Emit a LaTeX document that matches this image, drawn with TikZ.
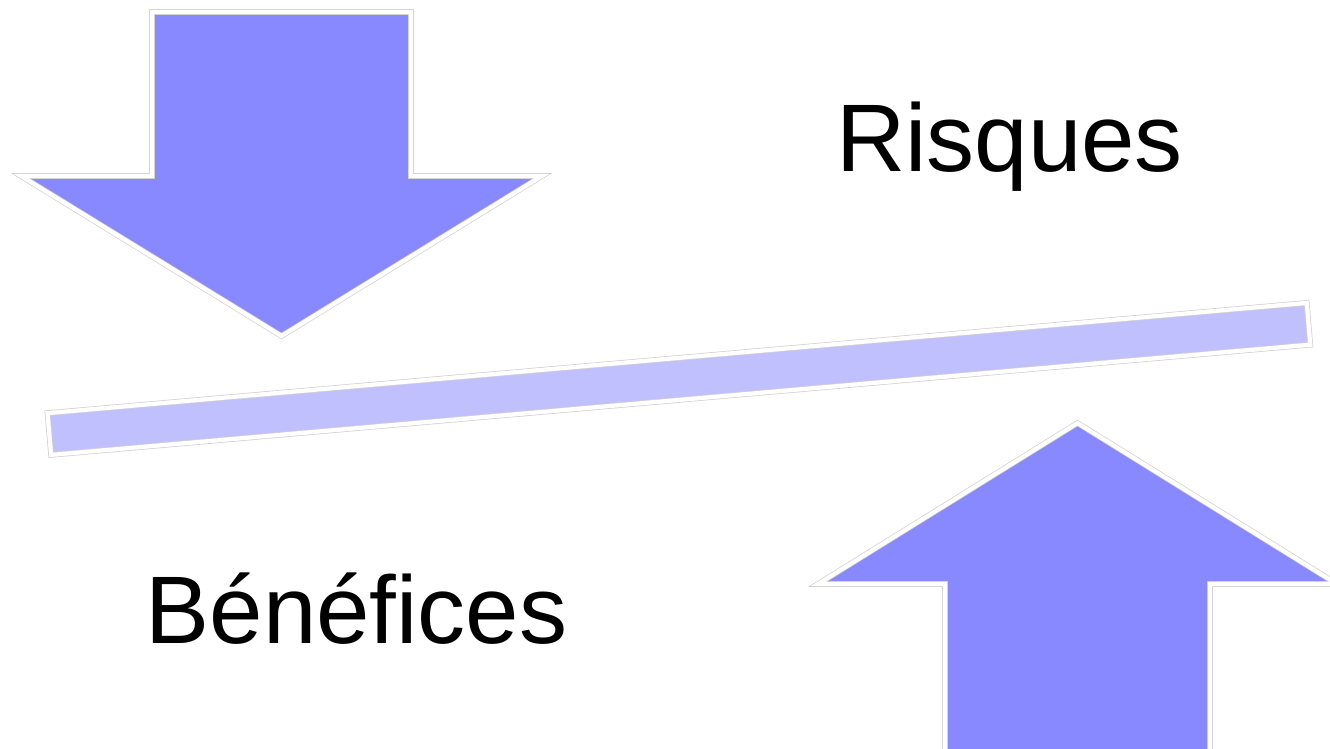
\documentclass[tikz,border=0pt]{standalone}
\usepackage{fontspec}
\setmainfont{Liberation Sans}
\usetikzlibrary{positioning}
\definecolor{arrowblue}{RGB}{136,136,255}
\definecolor{beamblue}{RGB}{192,192,255}
\definecolor{edgegray}{RGB}{208,208,208}

\begin{document}
\begin{tikzpicture}[x=0.01cm, y=-0.01cm,
    bigarrow/.style={fill=arrowblue, draw=edgegray, line width=0.2pt, double=white, double distance=1.2pt, line join=miter},
    beam/.style={fill=beamblue, draw=edgegray, line width=0.2pt, double=white, double distance=1.2pt},
    word/.style={anchor=base, inner sep=0pt, font=\fontsize{27.3}{32}\selectfont}]
    \useasboundingbox (0,0) rectangle (1330,748);
    \clip (0,0) rectangle (1330,748);

    % pressure from above
    \draw[bigarrow] (152,12) -- (411,12) -- (411,176) -- (542,176) -- (281.5,336)
        -- (21,176) -- (152,176) -- cycle;
    % pressure from below
    \draw[bigarrow] (945,760) -- (945,584) -- (818,584) -- (1077.5,423)
        -- (1337,584) -- (1210,584) -- (1210,760) -- cycle;
    % the balance beam
    \draw[beam] (47.5,413.1) -- (1306.7,302.9) -- (1310.3,344.7) -- (51.1,454.9) -- cycle;

    \node[word] (risques) at (1009.5,171) {Risques};
    \node[word] (benefices) at (356.5,643) {Bénéfices};
\end{tikzpicture}
\end{document}
